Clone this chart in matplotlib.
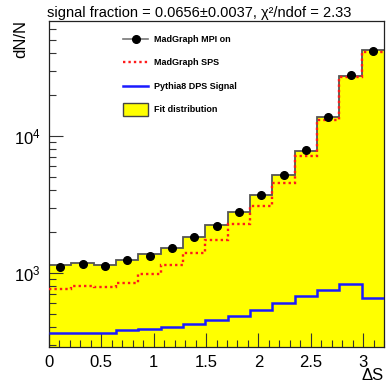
import matplotlib
matplotlib.use("Agg")
import matplotlib.pyplot as plt
import numpy as np
from matplotlib.lines import Line2D
from matplotlib.patches import Patch, Rectangle
from matplotlib.legend_handler import HandlerPatch
from matplotlib.ticker import MultipleLocator, LogLocator, NullFormatter

plt.rcParams["font.family"] = ["Liberation Sans", "DejaVu Sans"]

# 15 bins in Delta S, 0 .. 3.2
bin_edges = np.linspace(0.0, 3.2, 16)

mpi_on = [1101, 1169, 1119, 1238, 1331, 1530, 1841, 2203, 2788, 3709,
          5220, 7900, 13770, 27870, 41730]
fit_dist = [1143, 1177, 1150, 1238, 1370, 1530, 1841, 2230, 2773, 3709,
            5220, 7810, 13690, 27540, 42250]
sps = [767, 808, 787, 849, 984, 1150, 1407, 1741, 2279, 3100,
       4560, 7140, 13080, 26800, 41230]
dps = [366, 366, 366, 384, 388, 404, 422, 454, 488, 537,
       601, 683, 751, 827, 661]

title = "signal fraction = 0.0656\u00b10.0037, \u03c7\u00b2/ndof = 2.33"


def tall_box(legend, orig_handle, xdescent, ydescent, width, height, fontsize):
    return Rectangle((-xdescent, -ydescent - 0.55 * height), width, height * 2.1)


def main():
    fig = plt.figure(figsize=(3.86, 3.88), dpi=100)
    ax = fig.add_axes([49 / 386, 41 / 388, 335 / 386, 326 / 388])

    centers = 0.5 * (bin_edges[:-1] + bin_edges[1:])

    ax.stairs(fit_dist, bin_edges, fill=True, color="#ffff00", baseline=1, zorder=1)
    ax.stairs(fit_dist, bin_edges, color="#555555", lw=1.3, baseline=None, zorder=2)
    ax.stairs(sps, bin_edges, color="#ff1a1a", lw=1.7, ls=(0, (1, 1.3)),
              baseline=None, zorder=3)
    ax.stairs(dps, bin_edges, color="#1a1aff", lw=1.8, baseline=None, zorder=4)
    ax.plot(centers, mpi_on, "o", color="black", ms=5.5, zorder=5)

    ax.set_yscale("log")
    ax.set_xlim(0, 3.2)
    ax.set_ylim(288, 69000)

    ax.xaxis.set_major_locator(MultipleLocator(0.5))
    ax.xaxis.set_minor_locator(MultipleLocator(0.1))
    ax.yaxis.set_major_locator(LogLocator(base=10))
    ax.yaxis.set_minor_locator(LogLocator(base=10, subs=np.arange(2, 10)))
    ax.yaxis.set_minor_formatter(NullFormatter())
    ax.xaxis.set_major_formatter(matplotlib.ticker.FuncFormatter(
        lambda v, p: "0" if v == 0 else f"{v:g}"))

    ax.tick_params(which="both", direction="in", top=False, right=False,
                   labelsize=12, color="#333333")
    ax.tick_params(which="major", length=10, width=0.8, pad=6)
    ax.tick_params(which="minor", length=5, width=0.8)
    for sp in ax.spines.values():
        sp.set_linewidth(0.9)
        sp.set_color("#222222")

    fig.text(362 / 386, 1 - 376 / 388, "\u0394S", fontsize=12, ha="left", va="center")
    fig.text(21 / 386, 1 - 20 / 388, "dN/N", fontsize=12, rotation=90,
             ha="center", va="top")
    fig.text(199 / 386, 1 - 13 / 388, title, fontsize=10.5, ha="center", va="center")

    handles = [
        Line2D([], [], color="#777777", lw=1.2, marker="o", ms=5.5,
               markerfacecolor="black", markeredgecolor="black"),
        Line2D([], [], color="#ff1a1a", lw=1.7, ls=(0, (1, 1.3))),
        Line2D([], [], color="#1a1aff", lw=1.8),
        Patch(facecolor="#ffff00", edgecolor="#444444", lw=1.0),
    ]
    labels = ["MadGraph MPI on", "MadGraph SPS", "Pythia8 DPS Signal", "Fit distribution"]
    ax.legend(handles, labels, loc="upper left", bbox_to_anchor=(0.222, 0.957),
              frameon=False, borderpad=0, borderaxespad=0, handlelength=2.7,
              handletextpad=0.7, labelspacing=1.6,
              prop={"weight": "bold", "size": 6.5},
              handler_map={Patch: HandlerPatch(patch_func=tall_box)})

    fig.savefig("out.png", dpi=100)


if __name__ == "__main__":
    main()
